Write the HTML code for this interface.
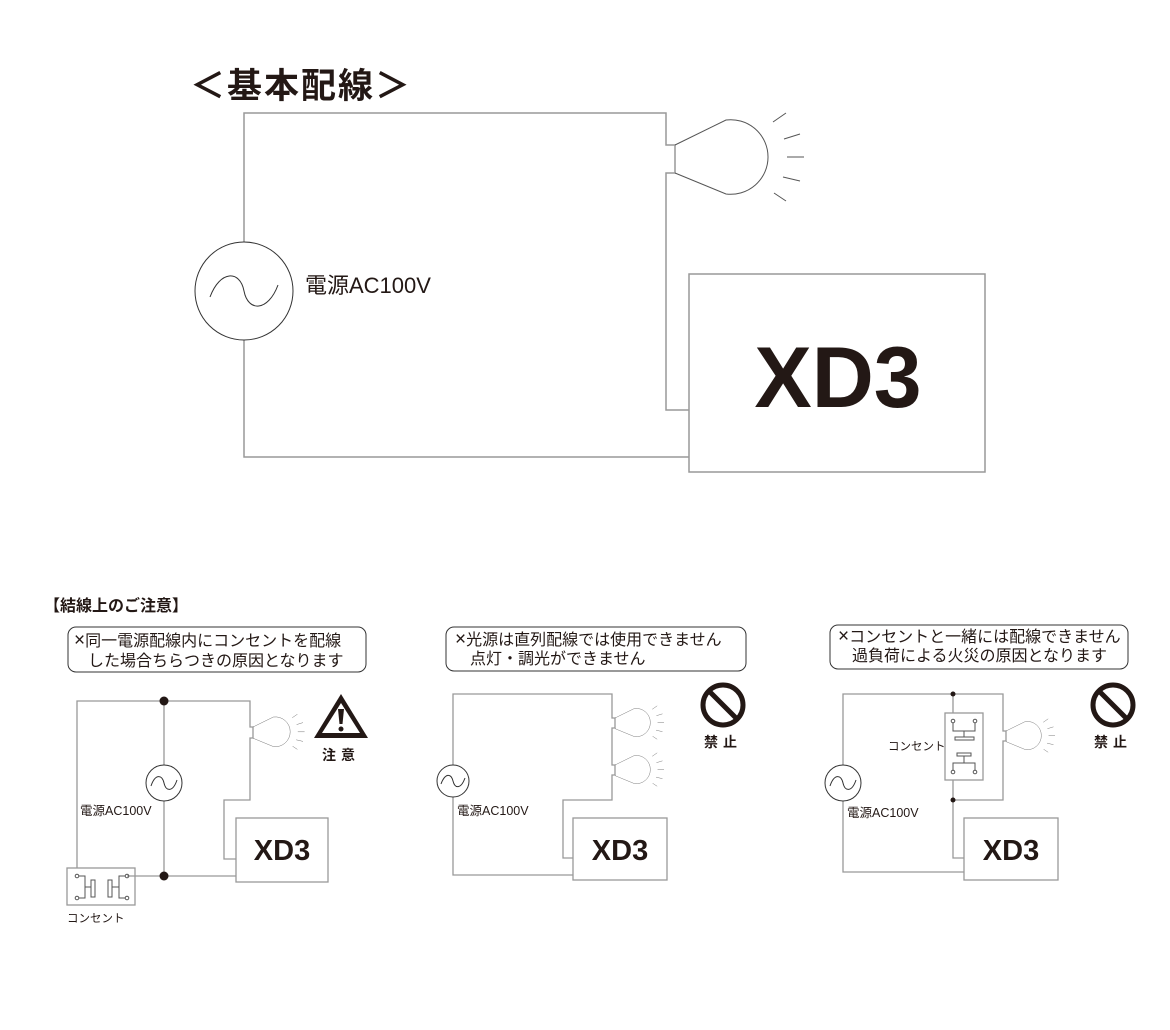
<!DOCTYPE html>
<html><head><meta charset="utf-8"><style>
body{margin:0;background:#fff}
svg text{font-family:"Liberation Sans","Noto Sans CJK JP",sans-serif;fill:#231815}
</style></head><body>
<svg width="1170" height="1025" viewBox="0 0 1170 1025" xmlns="http://www.w3.org/2000/svg">
<defs>
<g id="bulb" fill="none" stroke="#555" stroke-width="1">
  <path d="M0,0 L51,-25 A37.3,37.3 0 1 1 51,49 L0,28"/>
  <path d="M98,-23 L111,-32 M109,-6 L125,-11 M112,12 L129,12 M108,32 L125,36 M99,48 L111,56"/>
</g>
</defs>
<!-- Main diagram -->
<text x="190" y="98" font-size="35" font-weight="bold" letter-spacing="2">＜基本配線＞</text>
<g fill="none" stroke="#999" stroke-width="1.5">
  <path d="M244,242 V113 H666 V145 H675 V173 H666 V410 H689"/>
  <path d="M244,340 V457 H689"/>
  <rect x="689" y="274" width="296" height="198"/>
</g>
<circle cx="244" cy="291" r="49" fill="none" stroke="#333" stroke-width="1"/>
<path d="M210,297 C220,270 240,270 244,291 C248,312 268,312 278,285" fill="none" stroke="#333" stroke-width="1"/>
<use href="#bulb" x="675" y="145"/>
<text x="305" y="293" font-size="22">電源AC100V</text>
<text x="838" y="407" font-size="86" font-weight="bold" text-anchor="middle">XD3</text>

<!-- Caution title -->
<text x="44" y="611" font-size="16" font-weight="bold">【結線上のご注意】</text>

<!-- Panel 1 -->
<rect x="68" y="627" width="298" height="45" rx="8" fill="none" stroke="#333" stroke-width="1"/>
<text x="74" y="646" font-size="16"><tspan font-size="19">×</tspan>同一電源配線内にコンセントを配線</text>
<text x="88" y="666" font-size="16">した場合ちらつきの原因となります</text>
<g fill="none" stroke="#999" stroke-width="1.3">
  <path d="M77,868 V701 H250 V727 H253 V738 H250 V800 H224 V859 H236"/>
  <path d="M164,701 V765 M164,801 V876"/>
  <path d="M127,876 H236"/>
  <rect x="236" y="818" width="92" height="64"/>
  <rect x="67" y="868" width="68" height="37"/>
</g>
<circle cx="164" cy="701" r="4.5" fill="#231815"/>
<circle cx="164" cy="876" r="4.5" fill="#231815"/>
<circle cx="164" cy="783" r="18" fill="none" stroke="#333"/>
<path d="M151,786 C155,774 162,774 164,783 C166,792 173,792 177,780" fill="none" stroke="#333"/>
<g fill="none" stroke="#555" stroke-width="1">
  <circle cx="77" cy="876" r="1.8"/><circle cx="77" cy="898" r="1.8"/>
  <circle cx="127" cy="876" r="1.8"/><circle cx="127" cy="898" r="1.8"/>
  <path d="M79,876 H85 V898 H79 M85,887 H91"/>
  <rect x="91" y="880" width="4" height="17"/>
  <rect x="108" y="880" width="4" height="17"/>
  <path d="M125,876 H119 V898 H125 M112,887 H119"/>
</g>
<g transform="translate(253,727) scale(0.4)"><use href="#bulb"/></g>
<text x="80" y="815" font-size="12.5">電源AC100V</text>
<text x="67" y="922" font-size="11.5">コンセント</text>
<text x="282" y="860" font-size="29" font-weight="bold" text-anchor="middle">XD3</text>
<path d="M341,694 L368,738 L314,738 Z" fill="#231815"/>
<path d="M341,703 L360,733 L322,733 Z" fill="#fff"/>
<path d="M338,709 H344 L342.5,724 H339.5 Z" fill="#231815"/>
<circle cx="341" cy="729" r="2.5" fill="#231815"/>
<text x="341" y="760" font-size="14" font-weight="bold" text-anchor="middle" letter-spacing="5">注意</text>

<!-- Panel 2 -->
<rect x="446" y="627" width="300" height="44" rx="8" fill="none" stroke="#333" stroke-width="1"/>
<text x="455" y="645" font-size="16"><tspan font-size="19">×</tspan>光源は直列配線では使用できません</text>
<text x="470" y="664" font-size="16">点灯・調光ができません</text>
<g fill="none" stroke="#999" stroke-width="1.3">
  <path d="M453,765 V694 H612 V718 H615 V728 H612 V765 H615 V775 H612 V800 H563 V858 H573"/>
  <path d="M453,797 V875 H573"/>
  <rect x="573" y="818" width="94" height="62"/>
</g>
<g transform="translate(615,718) scale(0.38)"><use href="#bulb"/></g>
<g transform="translate(615,765) scale(0.38)"><use href="#bulb"/></g>
<circle cx="453" cy="781" r="16" fill="none" stroke="#333"/>
<path d="M441,784 C445,773 451,773 453,781 C455,789 461,789 465,778" fill="none" stroke="#333"/>
<text x="457" y="815" font-size="12.5">電源AC100V</text>
<text x="620" y="860" font-size="29" font-weight="bold" text-anchor="middle">XD3</text>
<circle cx="723" cy="705" r="20" fill="none" stroke="#231815" stroke-width="5"/>
<path d="M709,691 L737,719" stroke="#231815" stroke-width="5"/>
<text x="723" y="747" font-size="14" font-weight="bold" text-anchor="middle" letter-spacing="5">禁止</text>

<!-- Panel 3 -->
<rect x="830" y="625" width="298" height="44" rx="8" fill="none" stroke="#333" stroke-width="1"/>
<text x="838" y="642" font-size="16"><tspan font-size="19">×</tspan>コンセントと一緒には配線できません</text>
<text x="852" y="661" font-size="16">過負荷による火災の原因となります</text>
<g fill="none" stroke="#999" stroke-width="1.3">
  <path d="M843,765 V694 H1003 V731 H1006 V741 H1003 V800 H953 V858 H964"/>
  <path d="M843,801 V872 H964"/>
  <path d="M953,694 V713 M953,780 V800"/>
  <rect x="945" y="713" width="38" height="67"/>
  <rect x="964" y="818" width="94" height="62"/>
</g>
<circle cx="953" cy="694" r="2.5" fill="#231815"/>
<circle cx="953" cy="800" r="2.5" fill="#231815"/>
<g fill="none" stroke="#555" stroke-width="1">
  <circle cx="953" cy="721" r="1.8"/><circle cx="975" cy="721" r="1.8"/>
  <circle cx="953" cy="772" r="1.8"/><circle cx="975" cy="772" r="1.8"/>
  <path d="M953,723 V731 H975 V723 M964,731 V737 M955,737 H974 V740 H955 Z"/>
  <path d="M953,770 V763 H975 V770 M964,763 V756 M957,753 H971 V756 H957 Z"/>
</g>
<g transform="translate(1006,731) scale(0.38)"><use href="#bulb"/></g>
<circle cx="843" cy="783" r="18" fill="none" stroke="#333"/>
<path d="M830,786 C834,774 841,774 843,783 C845,792 852,792 856,780" fill="none" stroke="#333"/>
<text x="888" y="750" font-size="11.5">コンセント</text>
<text x="847" y="817" font-size="12.5">電源AC100V</text>
<text x="1011" y="860" font-size="29" font-weight="bold" text-anchor="middle">XD3</text>
<circle cx="1113" cy="705" r="20" fill="none" stroke="#231815" stroke-width="5"/>
<path d="M1099,691 L1127,719" stroke="#231815" stroke-width="5"/>
<text x="1113" y="747" font-size="14" font-weight="bold" text-anchor="middle" letter-spacing="5">禁止</text>
</svg>
</body></html>
